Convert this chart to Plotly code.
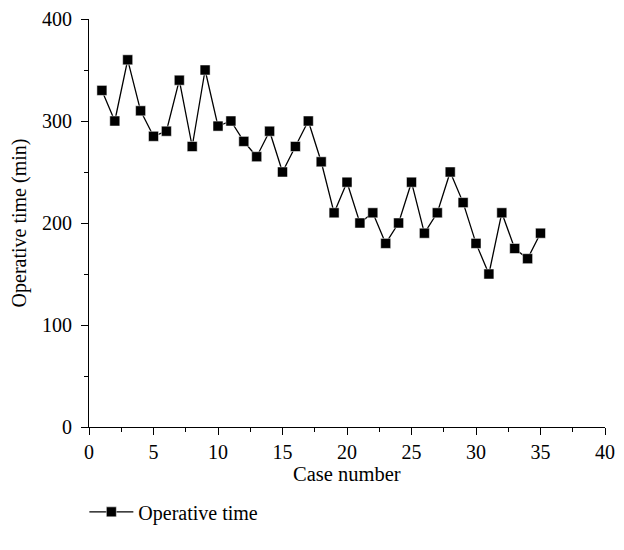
import plotly.graph_objects as go

case_number = list(range(1, 36))
operative_time = [330, 300, 360, 310, 285, 290, 340, 275, 350, 295,
                  300, 280, 265, 290, 250, 275, 300, 260, 210, 240,
                  200, 210, 180, 200, 240, 190, 210, 250, 220, 180,
                  150, 210, 175, 165, 190]

FONT = "Liberation Serif"

fig = go.Figure()
fig.add_trace(go.Scatter(
    x=case_number, y=operative_time, mode="lines+markers",
    name="Operative time",
    line=dict(color="black", width=1.3),
    marker=dict(symbol="square", size=10, color="black",
                line=dict(color="white", width=0.5)),
))

fig.update_layout(
    width=608, height=534,
    margin=dict(l=81, r=11, t=11, b=99),
    plot_bgcolor="white", paper_bgcolor="white",
    font=dict(family=FONT, size=20, color="black"),
    showlegend=True,
    legend=dict(x=-0.009, y=-0.208, xanchor="left", yanchor="middle",
                itemwidth=44,
                font=dict(family=FONT, size=20), bgcolor="rgba(0,0,0,0)"),
    annotations=[dict(text="Case number", xref="paper", yref="paper",
                      x=0.5, y=-0.116, xanchor="center", yanchor="middle",
                      showarrow=False, font=dict(family=FONT, size=20.5))],
)
fig.update_xaxes(
    range=[0, 40], tickvals=[0, 5, 10, 15, 20, 25, 30, 35, 40],
    automargin=False, tickfont=dict(size=20),
    showgrid=False, zeroline=False, showline=True, linecolor="black", linewidth=1,
    ticks="outside", ticklen=7, tickcolor="black",
    minor=dict(dtick=2.5, ticks="outside", ticklen=4, tickcolor="black", showgrid=False),
)
fig.update_yaxes(
    range=[0, 400], tickvals=[0, 100, 200, 300, 400], ticklabelstandoff=5,
    automargin=False, tickfont=dict(size=20),
    showgrid=False, zeroline=False, showline=True, linecolor="black", linewidth=1,
    ticks="outside", ticklen=7, tickcolor="black",
    minor=dict(dtick=50, ticks="outside", ticklen=4, tickcolor="black", showgrid=False),
    title=dict(text="Operative time (min)", font=dict(family=FONT, size=20), standoff=12),
)

fig.write_html("out.html")
